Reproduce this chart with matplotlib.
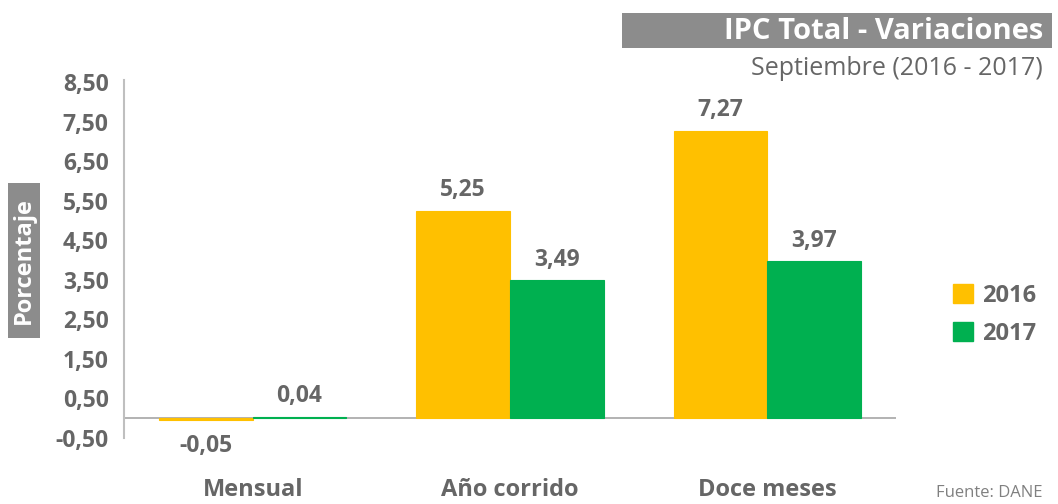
import matplotlib
matplotlib.use("Agg")
import matplotlib.pyplot as plt
from matplotlib.patches import Rectangle, Patch
import numpy as np

# datos
categorias = ["Mensual", "Año corrido", "Doce meses"]
anio_2016 = [-0.05, 5.25, 7.27]
anio_2017 = [0.04, 3.49, 3.97]
etiq_2016 = ["-0,05", "5,25", "7,27"]
etiq_2017 = ["0,04", "3,49", "3,97"]
ticks_y = [-0.5, 0.5, 1.5, 2.5, 3.5, 4.5, 5.5, 6.5, 7.5, 8.5]
ticks_y_lbl = ["-0,50", "0,50", "1,50", "2,50", "3,50", "4,50", "5,50", "6,50", "7,50", "8,50"]

amarillo = "#FFC000"
verde = "#00B050"
gris = "#666666"

plt.rcParams['font.family'] = ['Open Sans', 'DejaVu Sans']

fig = plt.figure(figsize=(10.58, 5.04), dpi=100)
ax = fig.add_axes([0.1172, 0.131, 0.7297, 0.710])

x = np.arange(len(categorias))
w = 0.364
ax.bar(x - w/2, anio_2016, w, color=amarillo, edgecolor=amarillo, linewidth=0.8, label="2016")
ax.bar(x + w/2, anio_2017, w, color=verde, edgecolor=verde, linewidth=0.8, label="2017")

for xi, v, t in zip(x - w/2, anio_2016, etiq_2016):
    if v >= 0:
        ax.annotate(t, (xi, v), xytext=(0, 6), textcoords="offset points",
                    ha="center", va="bottom", fontsize=16.5, fontweight="bold", color=gris)
    else:
        ax.annotate(t, (xi, v), xytext=(0, -10), textcoords="offset points",
                    ha="center", va="top", fontsize=16.5, fontweight="bold", color=gris)
for xi, v, t in zip(x + w/2, anio_2017, etiq_2017):
    ax.annotate(t, (xi, v), xytext=(0, 6), textcoords="offset points",
                ha="center", va="bottom", fontsize=16.5, fontweight="bold", color=gris)

ax.set_xlim(-0.5, 2.5)
ax.set_ylim(-0.5, 8.55)
ax.set_yticks(ticks_y)
ax.set_yticklabels(ticks_y_lbl, fontsize=16.5, fontweight="bold", color=gris)
ax.set_xticks(x)
ax.set_xticklabels(categorias, fontsize=17, fontweight="bold", color=gris)
ax.tick_params(axis="both", length=0)
ax.tick_params(axis="y", pad=11)
ax.tick_params(axis="x", pad=29)
for s in ["top", "right", "bottom"]:
    ax.spines[s].set_visible(False)
ax.spines["left"].set_color("#BFBFBF")
ax.spines["left"].set_linewidth(1.5)
ax.axhline(0, color="#A6A6A6", linewidth=1.2, zorder=0)

# titulo
fig.patches.append(Rectangle((0.588, 0.905), 0.406, 0.069, transform=fig.transFigure,
                             facecolor="#8C8C8C", edgecolor="none"))
fig.text(0.986, 0.938, "IPC Total - Variaciones", ha="right", va="center",
         fontsize=21, fontweight="bold", color="white")
fig.text(0.986, 0.865, "Septiembre (2016 - 2017)", ha="right", va="center",
         fontsize=18, color=gris)

# etiqueta eje y
fig.patches.append(Rectangle((0.0076, 0.329), 0.0302, 0.308, transform=fig.transFigure,
                             facecolor="#8C8C8C", edgecolor="none"))
fig.text(0.0227, 0.483, "Porcentaje", rotation=90, ha="center", va="center",
         fontsize=17, fontweight="bold", color="white")

handles = [Patch(color=amarillo), Patch(color=verde)]
leg = fig.legend(handles, ["2016", "2017"], loc="center", bbox_to_anchor=(0.94, 0.375),
                 frameon=False, handlelength=0.85, handleheight=0.85, handletextpad=0.35,
                 labelspacing=0.6, prop={"size": 17, "weight": "bold"})
for t in leg.get_texts():
    t.set_color(gris)

fig.text(0.885, 0.006, "Fuente: DANE", ha="left", va="bottom", fontsize=12, color="#808080")

fig.savefig("out.png", dpi=100)
